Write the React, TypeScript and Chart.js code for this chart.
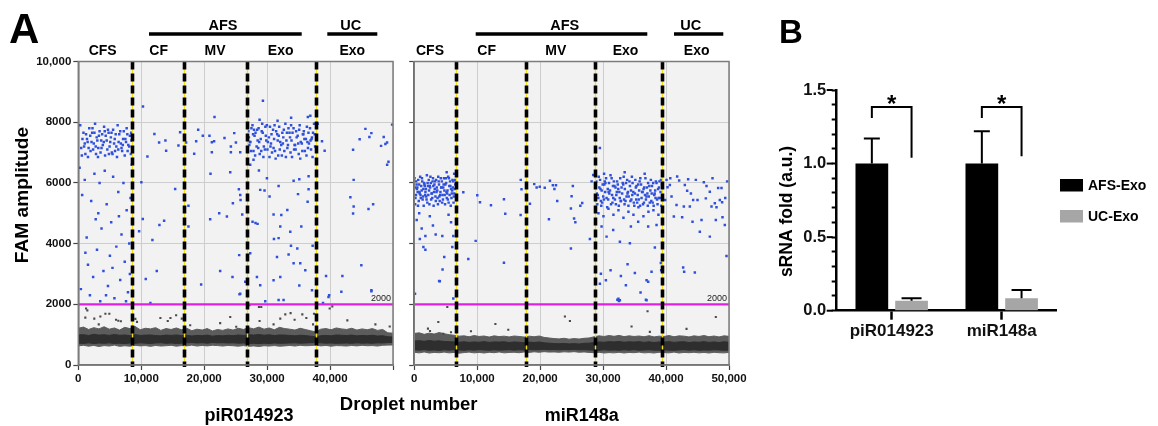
import React, { useEffect, useRef } from 'react';
import { Chart, registerables } from 'chart.js';

Chart.register(...registerables);

const FONT = '"Liberation Sans", Arial, Helvetica, sans-serif';
const CANVAS_W = 1158;
const CANVAS_H = 426;

// ================= Panel A : droplet digital PCR =================
const leftXMax = 48800;
const rightXMax = 50400;
const ampMax = 10000;
const threshold = 2000;
const xTickLabelsLeft = ['0', '10,000', '20,000', '30,000', '40,000'];
const xTickLabelsRight = ['0', '10,000', '20,000', '30,000', '40,000', '50,000'];
const yTickLabelsA = ['0', '2000', '4000', '6000', '8000', '10,000'];
const groupLabels = ['CFS', 'CF', 'MV', 'Exo', 'Exo'];
const superGroupLabels = ['AFS', 'UC'];
const targetNames = ['piR014923', 'miR148a'];
const leftBoundaries = [8350, 16370, 26200, 36900];
const rightBoundaries = [6640, 17890, 28930, 39740];

// ---- left (piR014923) positive droplets ----
const leftCfsX = [300, 650, 900, 1200, 1450, 1700, 1900, 2150, 2400, 2600, 2850, 3100, 3300, 3550, 3800, 4000, 4250, 4500, 4700, 4950, 5200, 5400, 5650, 5900, 6100, 6350, 6600, 6800, 7050, 7300, 7500, 7750, 8000, 8200,
  450, 800, 1100, 1350, 1600, 1850, 2050, 2300, 2500, 2750, 2950, 3200, 3450, 3700, 3950, 4150, 4400, 4600, 4850, 5050, 5300, 5550, 5800, 6000, 6250, 6500, 6700, 6950, 7200, 7400, 7650, 7900, 8150,
  550, 1000, 1500, 2200, 2700, 3050, 3600, 4100, 4750, 5150, 5700, 6200, 6900, 7600, 8250];
const leftCfsY = [7900, 7450, 7200, 7600, 7350, 7800, 7050, 7650, 7300, 7950, 7500, 7150, 7700, 7400, 7250, 7850, 7550, 7100, 7650, 7350, 7000, 7750, 7450, 7200, 7900, 7600, 7300, 7050, 7700, 7450, 7800, 7250, 7550, 7650,
  7150, 7650, 6950, 7450, 7150, 7550, 7350, 7100, 7650, 6950, 7400, 7550, 7000, 7600, 7350, 6900, 7400, 7750, 7200, 7500, 6950, 7300, 7600, 6850, 7350, 7700, 7150, 7450, 6900, 7350, 7050, 7200, 6950,
  6900, 7300, 6850, 7800, 7200, 6850, 7150, 7700, 6950, 7650, 7050, 7100, 7250, 7600, 7400];
const leftExoX = [26380, 26690, 27010, 27330, 27650, 27960, 28290, 28600, 28930, 29240, 29560, 29880, 30200, 30510, 30840, 31150, 31470, 31790, 32110, 32420, 32750, 33060, 33380, 33700, 34020, 34330, 34660, 34970, 35290, 35610, 35930, 36240, 36560,
  26520, 26850, 27170, 27480, 27810, 28130, 28440, 28770, 29080, 29400, 29720, 30040, 30360, 30680, 31000, 31310, 31640, 31950, 32270, 32590, 32910, 33220, 33540, 33860, 34180, 34500, 34820, 35130, 35450, 35770, 36090, 36400, 36720,
  26450, 26780, 27100, 27420, 27740, 28050, 28370, 28700, 29010, 29330, 29650, 29960, 30280, 30600, 30920, 31240, 31560, 31870, 32190, 32510, 32830, 33140, 33460, 33780, 34100, 34420, 34740, 35060, 35380, 35690, 36010, 36330, 36650,
  26600, 27250, 27900, 28520, 29150, 29800, 30430, 31080, 31720, 32350, 33000, 33620, 34250, 34900, 35530, 36180];
const leftExoY = [7700, 7350, 7900, 7550, 7200, 7800, 7450, 7650, 7100, 7900, 7500, 7300, 7750, 7050, 7600, 7850, 7250, 7500, 7950, 7150, 7650, 7400, 7800, 7100, 7550, 7900, 7300, 7700, 7450, 7150, 7800, 7500, 7950,
  7250, 7800, 7050, 7650, 7400, 6950, 7700, 7200, 7550, 7350, 7850, 7000, 7450, 7700, 6900, 7350, 7650, 7050, 7400, 7800, 7000, 7650, 7250, 7500, 6950, 7350, 7600, 7050, 7850, 7300, 7100, 7650, 7200,
  7500, 7050, 7600, 6900, 7750, 7350, 7050, 6850, 7850, 7100, 6850, 7600, 7150, 6800, 7400, 7100, 6900, 7750, 6850, 7250, 7500, 6850, 7100, 7700, 7300, 6800, 7050, 7450, 6900, 7650, 7400, 6850, 7600,
  7350, 7750, 7150, 7950, 7400, 7200, 7900, 7550, 7300, 7650, 7900, 7250, 7750, 7600, 7350, 7450];
const leftScatter = [
  [200, 6500], [600, 5600], [1000, 6100], [1300, 4200], [1500, 3300], [1800, 2300], [2000, 5400], [2300, 2900], [2500, 6300], [2900, 3800], [3100, 5000], [3400, 2100], [3600, 4500], [3900, 3100], [4100, 6400], [4400, 5300], [4600, 2600], [4900, 3600], [5100, 4700], [5400, 6200], [5600, 2200], [5900, 3900], [6200, 5700], [6500, 2800], [6700, 4300], [7000, 6000], [7200, 3400], [7500, 5100], [7700, 2400], [7900, 4000], [8100, 5500], [8300, 6600], [400, 2500], [1100, 3700], [2700, 4800], [3300, 6000], [4300, 2300], [5300, 3200], [6300, 4900], [7400, 2100], [8000, 3000],
  [10030, 8520], [11800, 7610], [12530, 7330], [13510, 7400], [13620, 7060], [10720, 6870], [9780, 6020], [15020, 5800], [10000, 4810], [13310, 4750], [12580, 4610], [9430, 4410], [11490, 4120], [12170, 3100], [10460, 2830], [15530, 7230], [15790, 7670], [11180, 2040],
  [17080, 5250], [17080, 4560], [16720, 7330], [18280, 7370], [18590, 7750], [17970, 6960], [19310, 7550], [20340, 7550], [20710, 7340], [21120, 8170], [21060, 7370], [20710, 7010], [20500, 6300], [22670, 7480], [23660, 7200], [24440, 7330], [24180, 7640], [23660, 7010], [25110, 7010], [23560, 6350], [24900, 5790], [25110, 5600], [25160, 5440], [23970, 5330], [25420, 4960], [20450, 4800], [21850, 5000], [23040, 4890], [24950, 3620], [23910, 2900], [22000, 3100], [19050, 2650], [25110, 2350], [25890, 2740], [25000, 2330],
  [28630, 8710], [28110, 8080], [35980, 8210], [35600, 8170], [33000, 8150], [30900, 8050], [28210, 5770], [29660, 5550], [30280, 4960], [31320, 4560], [32870, 4390], [34070, 5630], [35560, 5380], [30810, 3560], [32610, 3640], [33390, 3350], [34420, 3350], [30280, 2790], [31320, 2900], [35200, 3120], [27700, 2900], [26660, 3680], [28210, 2630], [31480, 4940], [32410, 5110], [33390, 6070], [34270, 6120], [35710, 6220], [31060, 5900], [28010, 6410], [29250, 6150], [28880, 5750], [27020, 4720], [27480, 4680], [27800, 4650], [31060, 4180], [30340, 4150], [32980, 3930], [33960, 3840], [36340, 3930], [34270, 2620], [36240, 2460], [26660, 6600], [27170, 6760], [35710, 5790], [34580, 4560], [28990, 2100], [31060, 2140], [31830, 2140],
  [37120, 7950], [37790, 7370], [38200, 7060], [42610, 7090], [42700, 6100], [43630, 7440], [44520, 7780], [45450, 7640], [45140, 7510], [47360, 7510], [46950, 7220], [47620, 7280], [47880, 7330], [47890, 6600], [48100, 6700], [48660, 7920], [42190, 5530], [42700, 5220], [42610, 4990], [45000, 5140], [45720, 5300], [43890, 3290], [45450, 2460], [40790, 2410], [40950, 2930], [38420, 2930], [38900, 2300], [37950, 2040], [38800, 2240], [45450, 2430],
];
const leftRain = [
  [1200, 1860], [1400, 1800], [1090, 1560], [2480, 1530], [3420, 1600], [4200, 1690], [4810, 1690], [3170, 1340], [5850, 1490], [6200, 1460], [6600, 1440], [8850, 1520], [9100, 1420], [12730, 1550], [14290, 1550], [13870, 1450], [15170, 1640], [16050, 1530], [17350, 1310], [22000, 1380], [23560, 1580], [24490, 1260], [26550, 1970], [28010, 1910], [28370, 1910], [28110, 1450], [30280, 1340], [31320, 1530], [32100, 1670], [32920, 1710], [33540, 1490], [34740, 1670], [35360, 1550], [36400, 1340], [36550, 1690], [38980, 1860], [39390, 1930], [41720, 1470], [46070, 1340], [48290, 1270],
];
// negative-droplet band outline (amplitude at sampled droplet numbers)
const leftBandX = [0, 800, 1600, 2400, 3200, 4000, 4800, 5600, 6400, 7200, 8000, 8800, 9600, 10400, 11200, 12000, 12800, 13600, 14400, 15200, 16000, 16800, 17600, 18400, 19200, 20000, 20800, 21600, 22400, 23200, 24000, 24800, 25600, 26400, 27200, 28000, 28800, 29600, 30400, 31200, 32000, 32800, 33600, 34400, 35200, 36000, 36800, 37600, 38400, 39200, 40000, 40800, 41600, 42400, 43200, 44000, 44800, 45600, 46400, 47200, 48000, 48800];
const leftOuterTop = [1210, 1250, 1170, 1230, 1190, 1260, 1180, 1220, 1150, 1240, 1200, 1270, 1160, 1210, 1190, 1230, 1140, 1200, 1170, 1220, 1160, 1210, 1130, 1180, 1150, 1200, 1120, 1170, 1140, 1190, 1150, 1210, 1170, 1230, 1190, 1250, 1180, 1220, 1160, 1240, 1200, 1180, 1150, 1210, 1170, 1130, 1090, 1180, 1200, 1160, 1220, 1190, 1170, 1210, 1150, 1190, 1160, 1200, 1140, 1170, 1060, 1050];
const leftCoreTop = [990, 1000, 970, 1010, 985, 995, 975, 1005, 980, 990, 970, 1000, 975, 985, 990, 970, 960, 985, 975, 990, 970, 980, 955, 975, 965, 985, 950, 970, 960, 980, 965, 990, 975, 1000, 985, 1005, 980, 995, 970, 990, 985, 975, 960, 980, 970, 950, 930, 965, 975, 960, 990, 980, 970, 985, 960, 975, 965, 980, 955, 965, 930, 925];
const leftCoreBottom = [720, 710, 730, 705, 725, 715, 730, 710, 720, 705, 725, 715, 730, 720, 710, 725, 735, 715, 725, 710, 720, 730, 740, 725, 735, 720, 740, 730, 735, 725, 730, 720, 725, 710, 715, 705, 720, 710, 725, 715, 720, 725, 730, 720, 725, 735, 740, 730, 720, 725, 715, 720, 725, 715, 730, 720, 725, 715, 730, 725, 740, 745];
const leftOuterBottom = [630, 650, 620, 645, 610, 640, 625, 655, 615, 635, 620, 650, 630, 640, 615, 645, 625, 635, 650, 620, 640, 630, 655, 625, 645, 630, 650, 640, 625, 645, 635, 620, 640, 615, 630, 610, 635, 625, 640, 620, 630, 645, 625, 650, 635, 640, 655, 630, 645, 620, 640, 635, 625, 645, 630, 650, 635, 640, 625, 650, 655, 660];

// ---- right (miR148a) positive droplets ----
const rightCfsX = [100, 320, 560, 780, 1010, 1240, 1470, 1690, 1920, 2150, 2380, 2600, 2830, 3060, 3290, 3510, 3740, 3970, 4200, 4420, 4650, 4880, 5110, 5330, 5560, 5790, 6020, 6240, 6470,
  200, 430, 650, 880, 1120, 1350, 1580, 1800, 2030, 2260, 2490, 2710, 2940, 3170, 3400, 3620, 3850, 4080, 4310, 4530, 4760, 4990, 5220, 5440, 5670, 5900, 6130, 6350, 6580,
  50, 280, 500, 730, 960, 1190, 1420, 1640, 1870, 2100, 2330, 2550, 2780, 3010, 3240, 3460, 3690, 3920, 4150, 4370, 4600, 4830, 5060, 5280, 5510, 5740, 5970, 6190, 6420,
  150, 380, 610, 840, 1060, 1290, 1520, 1750, 1980, 2200, 2430, 2660, 2890, 3110, 3340, 3570, 3800, 4030, 4250, 4480, 4710, 4940, 5160, 5390, 5620, 5850, 6080, 6300, 6530];
const rightCfsY = [5850, 6050, 5700, 5950, 5600, 6150, 5800, 5900, 5550, 6000, 5750, 6200, 5650, 5900, 5800, 6100, 5500, 5950, 5700, 6050, 5850, 5600, 6000, 5750, 6150, 5900, 5650, 6050, 5800,
  5500, 5800, 6100, 5650, 5900, 5450, 6000, 5700, 6250, 5600, 5900, 5450, 6050, 5700, 5550, 5850, 6200, 5400, 5850, 5600, 6150, 5950, 5500, 6200, 5600, 5800, 6100, 5550, 5950,
  6150, 5600, 5850, 5400, 6200, 5750, 5550, 5950, 5800, 5350, 6100, 5850, 5650, 6150, 5950, 5400, 5750, 6050, 5600, 5850, 5450, 5750, 6150, 5650, 5350, 6050, 5500, 5850, 5650,
  5300, 5950, 5250, 5700, 5500, 6050, 5250, 5600, 5450, 5900, 5300, 6000, 5500, 5250, 6050, 5700, 5300, 5550, 6150, 5350, 5950, 5300, 5700, 5450, 5900, 5250, 5750, 5350, 6100];
const rightExoX = [29080, 29390, 29760, 30010, 30370, 30620, 30990, 31240, 31610, 31870, 32230, 32480, 32850, 33110, 33470, 33720, 34090, 34340, 34710, 34960, 35330, 35590, 35950, 36200, 36570, 36830, 37190, 37450, 37810, 38070, 38430, 38690, 39050, 39310, 39660,
  29230, 29550, 29890, 30180, 30510, 30800, 31120, 31430, 31740, 32060, 32360, 32670, 32990, 33290, 33610, 33920, 34220, 34540, 34850, 35160, 35480, 35780, 36090, 36400, 36720, 37020, 37330, 37640, 37960, 38260, 38580, 38880, 39200, 39510,
  29150, 29480, 29820, 30090, 30440, 30720, 31060, 31350, 31680, 31960, 32290, 32590, 32910, 33200, 33540, 33830, 34150, 34460, 34770, 35080, 35400, 35700, 36020, 36320, 36640, 36950, 37260, 37560, 37890, 38180, 38500, 38800, 39130, 39440,
  29310, 29640, 29950, 30260, 30580, 30900, 31190, 31520, 31820, 32140, 32440, 32760, 33060, 33380, 33680, 34000, 34300, 34620, 34920, 35240, 35540, 35860, 36160, 36480, 36780, 37100, 37400, 37720, 38020, 38340, 38640, 38960, 39270, 39580,
  29500, 30300, 31100, 31900, 32700, 33500, 34300, 35100, 35900, 36700, 37500, 38300, 39100];
const rightExoY = [5900, 5600, 6100, 5750, 5450, 6000, 5800, 5650, 6150, 5500, 5850, 6050, 5700, 5400, 5950, 5800, 6100, 5550, 5750, 6000, 5650, 5900, 5450, 6150, 5700, 5850, 5550, 6000, 5750, 5900, 5600, 6050, 5800, 5500, 5950,
  5650, 6200, 5400, 5950, 6050, 5500, 5700, 6250, 5350, 5900, 5600, 5800, 6150, 5650, 5450, 6000, 5700, 5900, 6200, 5350, 5850, 5600, 6050, 5500, 5800, 6150, 5650, 5900, 5400, 6000, 5750, 5450, 5850, 6100,
  6050, 5500, 5800, 5350, 5950, 6150, 5450, 5750, 5600, 6050, 5300, 5950, 5500, 5850, 6200, 5400, 5650, 6050, 5450, 5700, 6100, 5350, 5750, 5950, 5300, 5600, 5850, 5550, 6100, 5350, 5650, 6000, 5500, 5700,
  5300, 5850, 5250, 5550, 5700, 5200, 6000, 5300, 5900, 5450, 5700, 5250, 5400, 6000, 5300, 5550, 5250, 5400, 5600, 5250, 5450, 5950, 5250, 5700, 5350, 5450, 5250, 5350, 5650, 5250, 5500, 5300, 6050, 5250,
  5000, 4900, 5150, 4950, 5100, 4850, 5050, 4950, 5200, 4900, 5050, 5100, 4950];
const rightScatter = [
  [400, 4780], [1200, 4500], [1790, 4250], [3440, 4300], [4500, 4250], [1470, 3890], [1790, 3800], [6260, 4250], [6100, 3890], [4810, 3560], [4540, 3150], [3990, 2770], [4100, 2760], [130, 2350], [6260, 2190], [800, 5000], [2500, 4900], [5500, 4950], [3000, 4600], [5900, 4700], [900, 4150], [6400, 6300], [5200, 6350],
  [7860, 5690], [10100, 5590], [10530, 5360], [12290, 5260], [14370, 5460], [14580, 4980], [17040, 4940], [9840, 4090], [8660, 3490], [14370, 3370], [17060, 6100], [17180, 5790],
  [18530, 5310], [19220, 5960], [19600, 5850], [20100, 5870], [20900, 5840], [21730, 6070], [22200, 5920], [22700, 5920], [21570, 4800], [22450, 5800], [22900, 5400], [25090, 5160], [25200, 5560], [25400, 5900], [25600, 4830], [25800, 4700], [26900, 5340], [28130, 4150], [25090, 3840], [28660, 6260], [28400, 6050], [26600, 5250],
  [30000, 4560], [30800, 4230], [31860, 4450], [32930, 4060], [34690, 4560], [35860, 4720], [37460, 4560], [38800, 4610], [29890, 3010], [29730, 2680], [30690, 2790], [31440, 3120], [33090, 2930], [34160, 3320], [35330, 3030], [37200, 2790], [37460, 2740], [38000, 3070], [38530, 3870], [33890, 2630], [36240, 2390], [37200, 2130], [32770, 2110], [32930, 2130], [29730, 7150], [39490, 3360], [39540, 3120], [34530, 4010], [32530, 2150], [32700, 2180], [37100, 2150], [30400, 6300], [33700, 6350], [36900, 6300],
  [40400, 6100], [40930, 5930], [42100, 6210], [42420, 6080], [43330, 5930], [43700, 5740], [43860, 6120], [45090, 6100], [46370, 6020], [47760, 6150], [48660, 5830], [49200, 5830], [47330, 5710], [46690, 5490], [45360, 5440], [44660, 5440], [44130, 5220], [43170, 5220], [42000, 5270], [41200, 5550], [40560, 5860], [40180, 5440], [48930, 5440], [49300, 5360], [48130, 5330], [47600, 5220], [48400, 5200], [41570, 4890], [42900, 4870], [44560, 4720], [46000, 4780], [48290, 4780], [49360, 4870], [49730, 4610], [45730, 4390], [47330, 4230], [43060, 3210], [43220, 3070], [44930, 3050], [50000, 3590], [41000, 6150], [44300, 5650], [46800, 5900], [49800, 5500], [50100, 6050],
];
const rightRain = [
  [5300, 1910], [3860, 1415], [2530, 1120], [4660, 1030], [5890, 1080], [9090, 1110], [15060, 1160], [24130, 1600], [24930, 1450], [34800, 1270], [37360, 1770], [37730, 1090], [43600, 1190], [48290, 1580], [2200, 1200], [13000, 1350],
];
const rightBandX = [0, 800, 1600, 2400, 3200, 4000, 4800, 5600, 6400, 7200, 8000, 8800, 9600, 10400, 11200, 12000, 12800, 13600, 14400, 15200, 16000, 16800, 17600, 18400, 19200, 20000, 20800, 21600, 22400, 23200, 24000, 24800, 25600, 26400, 27200, 28000, 28800, 29600, 30400, 31200, 32000, 32800, 33600, 34400, 35200, 36000, 36800, 37600, 38400, 39200, 40000, 40800, 41600, 42400, 43200, 44000, 44800, 45600, 46400, 47200, 48000, 48800, 49600, 50400];
const rightOuterTop = [1040, 1060, 1010, 1050, 1020, 1070, 1030, 1000, 980, 950, 960, 930, 970, 940, 955, 920, 960, 935, 950, 925, 955, 940, 920, 950, 930, 955, 910, 890, 870, 860, 880, 850, 870, 855, 880, 890, 930, 960, 940, 970, 945, 975, 935, 960, 940, 955, 930, 965, 925, 950, 940, 970, 930, 960, 950, 925, 960, 940, 970, 930, 955, 925, 960, 945];
const rightCoreTop = [790, 800, 780, 805, 785, 795, 775, 770, 760, 750, 765, 745, 760, 750, 770, 745, 760, 755, 765, 740, 760, 750, 735, 755, 740, 760, 730, 720, 705, 700, 710, 695, 705, 690, 715, 720, 740, 760, 750, 770, 760, 775, 750, 765, 755, 770, 745, 765, 740, 760, 755, 770, 745, 760, 765, 740, 760, 750, 770, 745, 760, 740, 765, 750];
const rightCoreBottom = [500, 490, 505, 485, 495, 480, 500, 490, 505, 495, 485, 500, 490, 505, 495, 485, 500, 490, 495, 505, 490, 500, 495, 510, 500, 505, 515, 505, 510, 500, 510, 505, 515, 500, 505, 495, 490, 485, 500, 490, 495, 485, 500, 490, 505, 485, 495, 500, 490, 485, 500, 490, 485, 495, 505, 490, 500, 485, 495, 490, 500, 495, 485, 490];
const rightOuterBottom = [420, 400, 430, 395, 415, 405, 425, 400, 415, 390, 410, 425, 400, 415, 395, 420, 405, 430, 400, 415, 420, 405, 430, 415, 435, 420, 440, 425, 430, 420, 435, 425, 440, 420, 430, 415, 405, 420, 395, 410, 400, 420, 395, 415, 405, 425, 400, 410, 395, 420, 410, 400, 425, 395, 415, 405, 420, 400, 415, 395, 420, 405, 400, 415];

// ================= Panel B : bar chart =================
const barCategories = ['piR014923', 'miR148a'];
const barSeriesNames = ['AFS-Exo', 'UC-Exo'];
const afsExoMean = [1.0, 1.0];
const afsExoErr = [0.17, 0.22];
const ucExoMean = [0.068, 0.084];
const ucExoErr = [0.017, 0.057];
const sigMarks = ['*', '*'];
const bracketTop = [1.385, 1.385];
const bracketLeftFoot = [1.31, 1.31];
const bracketRightFoot = [1.04, 1.05];
const barYTickLabels = ['0.0', '0.5', '1.0', '1.5'];

type XY = { x: number; y: number };
const zip = (xs: number[], ys: number[]): XY[] =>
  xs.map((x, i) => ({ x, y: ys[i] })).filter((p) => p.y !== undefined);
const fromPairs = (pairs: number[][]): XY[] => pairs.map(([x, y]) => ({ x, y }));

type Area = { l: number; t: number; r: number; b: number };

function dropletConfig(o: {
  blue: XY[]; rain: XY[]; bandX: number[]; outerTop: number[]; coreTop: number[];
  coreBottom: number[]; outerBottom: number[]; xMax: number; xTickLabels: string[];
  showYLabels: boolean; boundaries: number[]; area: Area; decorate?: (chart: any) => void;
}): any {
  const Y_W = 60;
  const X_H = 40;
  const bandDs = (data: XY[], color: string, fill: any) => ({
    type: 'line', data, showLine: true, fill, backgroundColor: color, borderColor: color,
    borderWidth: 1, pointRadius: 0, tension: 0,
  });
  return {
    type: 'scatter',
    data: {
      datasets: [
        { type: 'line', data: [{ x: 0, y: threshold }, { x: o.xMax, y: threshold }], borderColor: '#e020e0', borderWidth: 2.2, pointRadius: 0, showLine: true, fill: false },
        { data: o.blue, backgroundColor: '#2f50dc', pointStyle: 'rect', pointRadius: 1.75, borderWidth: 0 },
        { data: o.rain, backgroundColor: '#4a4a4a', pointStyle: 'rect', pointRadius: 1.5, borderWidth: 0 },
        bandDs(zip(o.bandX, o.coreTop), '#2e2e2e', '+1'),
        bandDs(zip(o.bandX, o.coreBottom), '#2e2e2e', false),
        bandDs(zip(o.bandX, o.outerTop), '#5c5c5c', '+1'),
        bandDs(zip(o.bandX, o.outerBottom), '#5c5c5c', false),
      ],
    },
    options: {
      animation: false,
      responsive: false,
      events: [],
      layout: { padding: { left: o.area.l - Y_W, top: o.area.t, right: CANVAS_W - o.area.r, bottom: CANVAS_H - o.area.b - X_H } },
      plugins: { legend: { display: false }, tooltip: { enabled: false } },
      scales: {
        x: {
          type: 'linear', min: 0, max: o.xMax,
          afterFit: (s: any) => { s.height = X_H; s.paddingLeft = 0; s.paddingRight = 0; },
          ticks: {
            stepSize: 10000, includeBounds: false, autoSkip: false, maxRotation: 0, padding: 2,
            color: '#111', font: { size: 11.5, weight: 'bold', family: FONT },
            callback: (_v: any, i: number) => o.xTickLabels[i] ?? '',
          },
          grid: { color: '#cdcdcd', lineWidth: 1, tickLength: 5, tickColor: '#444', tickWidth: 1.2 },
          border: { color: '#666', width: 1.5 },
        },
        y: {
          type: 'linear', min: 0, max: ampMax,
          afterFit: (s: any) => { s.width = Y_W; s.paddingTop = 0; s.paddingBottom = 0; },
          ticks: {
            stepSize: 2000, includeBounds: false, autoSkip: false, padding: 2,
            color: '#111', font: { size: 11.5, weight: 'bold', family: FONT },
            callback: (_v: any, i: number) => (o.showYLabels ? yTickLabelsA[i] ?? '' : ''),
          },
          grid: { color: '#cdcdcd', lineWidth: 1, tickLength: 5, tickColor: '#444', tickWidth: 1.2 },
          border: { color: '#666', width: 1.5 },
        },
      },
    },
    plugins: [
      {
        id: 'dropletDeco',
        beforeDraw(chart: any) {
          const { ctx, chartArea: a } = chart;
          ctx.save();
          ctx.fillStyle = '#f2f2f2';
          ctx.fillRect(a.left, a.top, a.right - a.left, a.bottom - a.top);
          ctx.restore();
        },
        afterDatasetsDraw(chart: any) {
          const { ctx, chartArea: a } = chart;
          const xs = chart.scales.x;
          const ys = chart.scales.y;
          ctx.save();
          o.boundaries.forEach((b) => {
            const px = Math.round(xs.getPixelForValue(b)) + 0.5;
            ctx.setLineDash([]);
            ctx.strokeStyle = '#f0e020';
            ctx.lineWidth = 1.3;
            ctx.beginPath(); ctx.moveTo(px, a.top); ctx.lineTo(px, a.bottom + 2); ctx.stroke();
            ctx.setLineDash([8, 4]);
            ctx.strokeStyle = '#000';
            ctx.lineWidth = 3.6;
            ctx.beginPath(); ctx.moveTo(px, a.top); ctx.lineTo(px, a.bottom + 2); ctx.stroke();
          });
          ctx.setLineDash([]);
          ctx.strokeStyle = '#7c7c7c';
          ctx.lineWidth = 1.5;
          ctx.strokeRect(a.left, a.top, a.right - a.left, a.bottom - a.top);
          ctx.fillStyle = '#222';
          ctx.font = `9px ${FONT}`;
          ctx.textAlign = 'right';
          ctx.textBaseline = 'alphabetic';
          ctx.fillText(String(threshold), a.right - 2, ys.getPixelForValue(threshold) - 3);
          ctx.restore();
        },
        afterDraw(chart: any) {
          if (o.decorate) o.decorate(chart);
        },
      },
    ],
  };
}

function drawPanelAText(chart: any) {
  const ctx = chart.ctx;
  ctx.save();
  ctx.fillStyle = '#000';
  ctx.strokeStyle = '#000';
  ctx.textBaseline = 'alphabetic';
  ctx.textAlign = 'left';
  ctx.font = `bold 42px ${FONT}`;
  ctx.fillText('A', 9, 42.5);

  // group headers
  const leftGroupX = [102.7, 158.7, 215, 280.7, 352.3];
  const rightGroupX = [430, 486.7, 555.8, 625.5, 696.7];
  ctx.textAlign = 'center';
  ctx.font = `bold 14px ${FONT}`;
  groupLabels.forEach((g, i) => {
    ctx.fillText(g, leftGroupX[i], 54.5);
    ctx.fillText(g, rightGroupX[i], 54.5);
  });
  ctx.font = `bold 14.5px ${FONT}`;
  const supers = [
    { label: superGroupLabels[0], cx: 223, x0: 149, x1: 301.7 },
    { label: superGroupLabels[1], cx: 350.8, x0: 327.3, x1: 377.3 },
    { label: superGroupLabels[0], cx: 564.7, x0: 475.7, x1: 647.3 },
    { label: superGroupLabels[1], cx: 690.7, x0: 674, x1: 723.3 },
  ];
  ctx.lineWidth = 3.5;
  supers.forEach((s) => {
    ctx.fillText(s.label, s.cx, 29.5);
    ctx.beginPath(); ctx.moveTo(s.x0, 34); ctx.lineTo(s.x1, 34); ctx.stroke();
  });

  // axis titles and target names
  ctx.font = `bold 18px ${FONT}`;
  ctx.fillText(targetNames[0], 249, 421);
  ctx.fillText(targetNames[1], 581.7, 421);
  ctx.font = `bold 18.5px ${FONT}`;
  ctx.fillText('Droplet number', 408.7, 410);
  ctx.save();
  ctx.translate(28, 195);
  ctx.rotate(-Math.PI / 2);
  ctx.font = `bold 19.2px ${FONT}`;
  ctx.fillText('FAM amplitude', 0, 0);
  ctx.restore();
  ctx.restore();
}

function barConfig(): any {
  const area: Area = { l: 836.7, t: 90, r: 1056.7, b: 310.7 };
  const Y_W = 60;
  const X_H = 40;
  return {
    type: 'bar',
    data: {
      labels: barCategories,
      datasets: [
        { label: barSeriesNames[0], data: afsExoMean, backgroundColor: '#000', categoryPercentage: 0.722, barPercentage: 0.824 },
        { label: barSeriesNames[1], data: ucExoMean, backgroundColor: '#a6a6a6', categoryPercentage: 0.722, barPercentage: 0.824 },
      ],
    },
    options: {
      animation: false,
      responsive: false,
      events: [],
      layout: { padding: { left: area.l - Y_W, top: area.t, right: CANVAS_W - area.r, bottom: CANVAS_H - area.b - X_H } },
      plugins: { legend: { display: false }, tooltip: { enabled: false } },
      scales: {
        x: {
          afterFit: (s: any) => { s.height = X_H; s.paddingLeft = 0; s.paddingRight = 0; },
          ticks: { color: '#111', padding: 1, font: { size: 17, weight: 'bold', family: FONT }, maxRotation: 0, autoSkip: false },
          grid: { display: true, drawOnChartArea: false, offset: false, tickLength: 9, tickColor: '#000', tickWidth: 2.5 },
          border: { color: '#000', width: 2.5 },
        },
        y: {
          min: 0, max: 1.5,
          afterFit: (s: any) => { s.width = Y_W; s.paddingTop = 0; s.paddingBottom = 0; },
          ticks: {
            stepSize: 0.1, autoSkip: false, padding: 5.5, color: '#111',
            font: { size: 16.5, weight: 'bold', family: FONT },
            callback: (_v: any, i: number) => (i % 5 === 0 ? barYTickLabels[i / 5] ?? '' : ''),
          },
          grid: { drawOnChartArea: false, tickLength: 5, tickColor: '#000', tickWidth: 2 },
          border: { color: '#000', width: 2.5 },
        },
      },
    },
    plugins: [
      {
        id: 'barDeco',
        afterDatasetsDraw(chart: any) {
          const { ctx, chartArea: a } = chart;
          const ys = chart.scales.y;
          ctx.save();
          ctx.strokeStyle = '#000';
          ctx.lineWidth = 2;
          const series = [
            { mean: afsExoMean, err: afsExoErr, cap: 16 },
            { mean: ucExoMean, err: ucExoErr, cap: 20 },
          ];
          series.forEach((s, di) => {
            const meta = chart.getDatasetMeta(di);
            meta.data.forEach((bar: any, j: number) => {
              const y0 = ys.getPixelForValue(s.mean[j]);
              const y1 = ys.getPixelForValue(s.mean[j] + s.err[j]);
              ctx.beginPath();
              ctx.moveTo(bar.x, y0); ctx.lineTo(bar.x, y1);
              ctx.moveTo(bar.x - s.cap / 2, y1); ctx.lineTo(bar.x + s.cap / 2, y1);
              ctx.stroke();
            });
          });
          // significance brackets
          const m0 = chart.getDatasetMeta(0);
          const m1 = chart.getDatasetMeta(1);
          ctx.fillStyle = '#000';
          ctx.font = `bold 24px ${FONT}`;
          ctx.textAlign = 'center';
          ctx.textBaseline = 'alphabetic';
          barCategories.forEach((_c, j) => {
            const x0 = m0.data[j].x;
            const x1 = m1.data[j].x;
            const yt = ys.getPixelForValue(bracketTop[j]);
            ctx.beginPath();
            ctx.moveTo(x0, ys.getPixelForValue(bracketLeftFoot[j]));
            ctx.lineTo(x0, yt);
            ctx.lineTo(x1, yt);
            ctx.lineTo(x1, ys.getPixelForValue(bracketRightFoot[j]));
            ctx.stroke();
            ctx.fillText(sigMarks[j], (x0 + x1) / 2, yt + 5);
          });
          // longer major ticks
          ctx.lineWidth = 2;
          [0, 0.5, 1.0, 1.5].forEach((v) => {
            const py = ys.getPixelForValue(v);
            ctx.beginPath(); ctx.moveTo(a.left - 10, py); ctx.lineTo(a.left - 4, py); ctx.stroke();
          });
          ctx.restore();
        },
        afterDraw(chart: any) {
          const ctx = chart.ctx;
          ctx.save();
          ctx.fillStyle = '#000';
          ctx.textAlign = 'left';
          ctx.textBaseline = 'alphabetic';
          ctx.font = `bold 33px ${FONT}`;
          ctx.fillText('B', 779, 42.7);
          // legend
          const boxes = [179, 210];
          ctx.font = `bold 14px ${FONT}`;
          chart.data.datasets.forEach((ds: any, i: number) => {
            ctx.fillStyle = ds.backgroundColor;
            ctx.fillRect(1060, boxes[i], 23, 12.5);
            ctx.fillStyle = '#000';
            ctx.fillText(ds.label, 1088, boxes[i] + 11.2);
          });
          // y title
          ctx.font = `bold 17.5px ${FONT}`;
          ctx.textAlign = 'center';
          ctx.translate(792, 211.5);
          ctx.rotate(-Math.PI / 2);
          ctx.fillText('sRNA fold (a.u.)', 0, 0);
          ctx.restore();
        },
      },
    ],
  };
}

export default function App() {
  const leftRef = useRef<HTMLCanvasElement>(null);
  const rightRef = useRef<HTMLCanvasElement>(null);
  const barRef = useRef<HTMLCanvasElement>(null);

  useEffect(() => {
    Chart.defaults.font.family = FONT;
    const left = new Chart(leftRef.current as HTMLCanvasElement, dropletConfig({
      blue: [...zip(leftCfsX, leftCfsY), ...zip(leftExoX, leftExoY), ...fromPairs(leftScatter)],
      rain: fromPairs(leftRain),
      bandX: leftBandX, outerTop: leftOuterTop, coreTop: leftCoreTop, coreBottom: leftCoreBottom, outerBottom: leftOuterBottom,
      xMax: leftXMax, xTickLabels: xTickLabelsLeft, showYLabels: true, boundaries: leftBoundaries,
      area: { l: 78.3, t: 61.5, r: 393, b: 365 },
      decorate: drawPanelAText,
    }));
    const right = new Chart(rightRef.current as HTMLCanvasElement, dropletConfig({
      blue: [...zip(rightCfsX, rightCfsY), ...zip(rightExoX, rightExoY), ...fromPairs(rightScatter)],
      rain: fromPairs(rightRain),
      bandX: rightBandX, outerTop: rightOuterTop, coreTop: rightCoreTop, coreBottom: rightCoreBottom, outerBottom: rightOuterBottom,
      xMax: rightXMax, xTickLabels: xTickLabelsRight, showYLabels: false, boundaries: rightBoundaries,
      area: { l: 414.2, t: 61.5, r: 729, b: 365 },
    }));
    const bar = new Chart(barRef.current as HTMLCanvasElement, barConfig());
    return () => { left.destroy(); right.destroy(); bar.destroy(); };
  }, []);

  const cs: React.CSSProperties = { position: 'absolute', left: 0, top: 0, width: CANVAS_W, height: CANVAS_H };
  return (
    <div style={{ position: 'fixed', left: 0, top: 0, width: CANVAS_W, height: CANVAS_H, background: '#fff' }}>
      <canvas ref={leftRef} width={CANVAS_W} height={CANVAS_H} style={cs} />
      <canvas ref={rightRef} width={CANVAS_W} height={CANVAS_H} style={cs} />
      <canvas ref={barRef} width={CANVAS_W} height={CANVAS_H} style={cs} />
    </div>
  );
}
